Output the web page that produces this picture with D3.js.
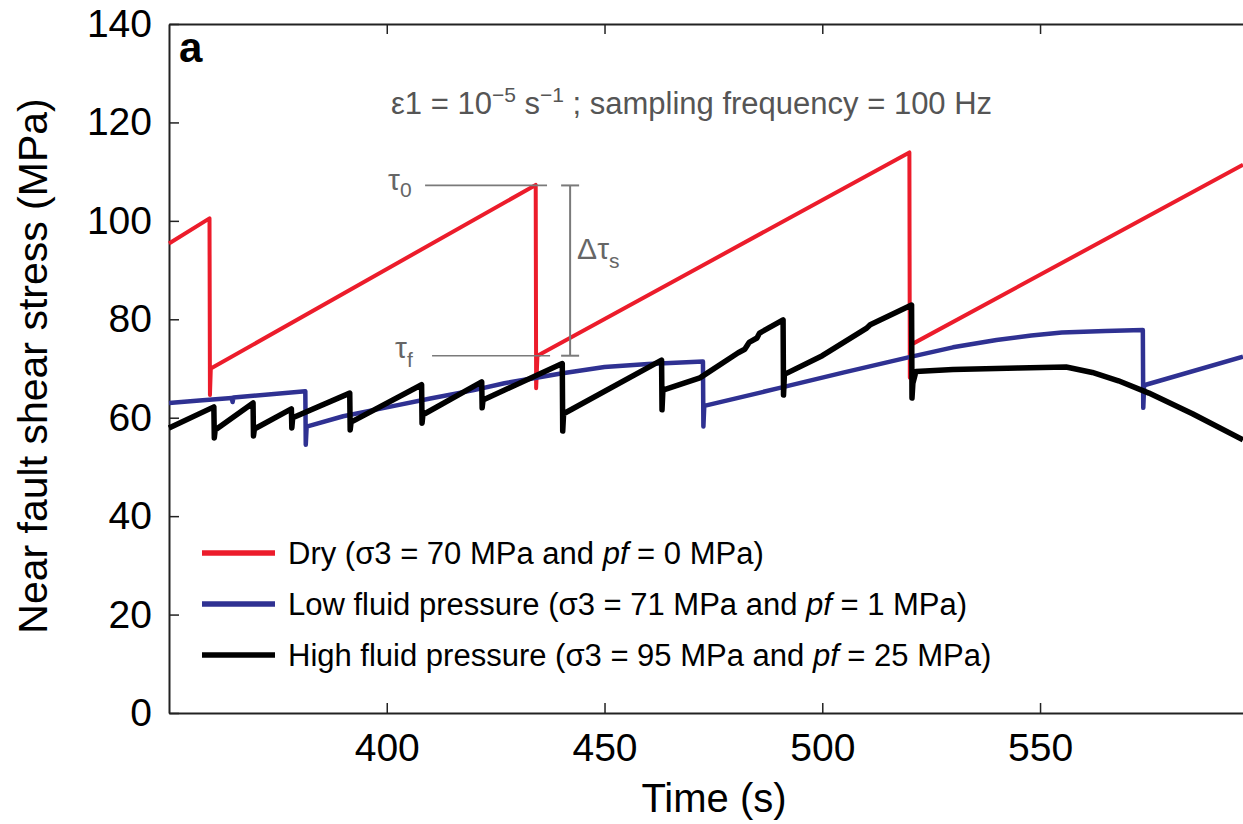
<!DOCTYPE html>
<html>
<head>
<meta charset="utf-8">
<script src="https://cdn.jsdelivr.net/npm/d3@7"></script>
<style>
  html, body { margin: 0; padding: 0; background: #fff; }
  svg { display: block; }
  text { font-family: "Liberation Sans", Arial, Helvetica, sans-serif; }
</style>
</head>
<body>
<svg id="chart" width="1243" height="824"></svg>
<script>
// ---- Data (time in s, stress in MPa) ----
const dry = [
  [350, 95.4], [359.3, 100.5], [359.4, 64.6], [359.6, 70.0],
  [434.2, 107.3], [434.3, 66.0], [434.6, 72.6],
  [520.0, 113.9], [520.1, 68.1], [520.3, 74.8],
  [596.6, 111.4]
];
const lowFluid = [
  [350, 63.0], [357, 63.5], [364.4, 64.0], [364.6, 63.2], [364.8, 64.1],
  [381.3, 65.4], [381.4, 54.5], [381.6, 58.2],
  [390, 60.3], [400, 62.1], [410, 63.9], [420, 65.6], [427, 67.0],
  [440, 69.0], [450, 70.3], [460, 70.9], [472.6, 71.4],
  [472.7, 58.2], [472.9, 62.4],
  [490, 66.0], [505, 69.2], [520, 72.3], [530, 74.3], [540, 75.8],
  [548, 76.7], [555, 77.3], [565, 77.6], [573.6, 77.8],
  [573.7, 62.0], [573.9, 66.6], [596.6, 72.4]
];
const highFluid = [
  [350, 57.9], [360.3, 62.2], [360.4, 55.9], [360.6, 57.5],
  [369.3, 63.0], [369.4, 56.3], [369.6, 57.7],
  [378.1, 61.8], [378.2, 57.9], [378.4, 60.0],
  [391.5, 65.0], [391.6, 57.5], [391.8, 59.1],
  [408.0, 66.7], [408.1, 58.9], [408.3, 60.6],
  [421.8, 67.3], [421.9, 62.0], [422.1, 63.6],
  [440.3, 71.0], [440.4, 57.3], [440.6, 60.8],
  [463.1, 71.7], [463.2, 61.6], [463.4, 65.6],
  [471.9, 68.1], [480.7, 73.2], [482.2, 73.9], [483.2, 75.3], [485.0, 76.2], [485.6, 77.2],
  [491.0, 79.9], [491.1, 64.6], [491.3, 68.8],
  [500, 72.6], [510.2, 78.2], [511.0, 78.9], [520.5, 82.9],
  [520.6, 64.0], [520.8, 67.0], [521.5, 69.4],
  [530, 69.8], [545, 70.1], [556, 70.3], [562, 69.2], [568, 67.5],
  [575, 65.0], [585, 60.8], [596.6, 55.5]
];
const xTicks = [400, 450, 500, 550];
const yTicks = [0, 20, 40, 60, 80, 100, 120, 140];
const seriesNames = [
  "Dry (\u03c33 = 70 MPa and ",
  "Low fluid pressure (\u03c33 = 71 MPa and ",
  "High fluid pressure (\u03c33 = 95 MPa and "
];
const seriesTails = [" = 0 MPa)", " = 1 MPa)", " = 25 MPa)"];
const seriesColors = ["#ec1c2b", "#2f3192", "#000000"];
const seriesWidths = [4, 4.5, 5.5];
// annotation levels (MPa) and times (s)
const tau0 = 107.2, tauF = 72.6;
const tau0Span = [408.8, 436.8], tauFSpan = [410.4, 437.5];
const deltaT = 442.1;

// ---- Layout ----
const svg = d3.select("#chart");
const x = d3.scaleLinear().domain([350, 596.6]).range([169, 1243]);
const y = d3.scaleLinear().domain([0, 140]).range([713, 24]);

// Axes
const axisColor = "#222";
const gx = svg.append("g").attr("transform", "translate(0,713)")
  .call(d3.axisBottom(x).tickValues(xTicks).tickSize(-10).tickPadding(20).tickSizeOuter(0));
const gxTop = svg.append("g").attr("transform", "translate(0,24)")
  .call(d3.axisTop(x).tickValues(xTicks).tickSize(-10).tickFormat("").tickSizeOuter(0));
const gy = svg.append("g").attr("transform", "translate(169,0)")
  .call(d3.axisLeft(y).tickValues(yTicks).tickSize(-10).tickPadding(17).tickSizeOuter(0));
[gx, gxTop, gy].forEach(g => {
  g.select(".domain").attr("stroke", axisColor).attr("stroke-width", 2);
  g.selectAll(".tick line").attr("stroke", axisColor).attr("stroke-width", 1.5);
  g.selectAll(".tick text").attr("fill", "#000").attr("font-size", 39)
    .attr("font-family", "'Liberation Sans', Arial, sans-serif");
});

// Axis titles
svg.append("text").attr("x", 714).attr("y", 812).attr("text-anchor", "middle")
  .attr("font-size", 40).text("Time (s)");
svg.append("text").attr("transform", "translate(47,366) rotate(-90)")
  .attr("text-anchor", "middle").attr("font-size", 41)
  .text("Near fault shear stress (MPa)");

// Panel label
svg.append("text").attr("x", 179).attr("y", 62).attr("font-size", 42)
  .attr("font-weight", "bold").text("a");

// Conditions annotation
const ann = svg.append("text").attr("x", 391).attr("y", 114)
  .attr("font-size", 31).attr("fill", "#555");
ann.append("tspan").text("\u03b51 = 10");
ann.append("tspan").attr("font-size", 21).attr("dy", -12).text("\u22125");
ann.append("tspan").attr("dy", 12).text(" s");
ann.append("tspan").attr("font-size", 21).attr("dy", -12).text("\u22121");
ann.append("tspan").attr("dy", 12).text(" ; sampling frequency = 100 Hz");

// Lines
const line = d3.line().x(d => x(d[0])).y(d => y(d[1]));
const plot = svg.append("g");
[dry, lowFluid, highFluid].forEach((s, i) => {
  plot.append("path").datum(s).attr("d", line)
    .attr("fill", "none").attr("stroke", seriesColors[i])
    .attr("stroke-width", seriesWidths[i]).attr("stroke-linejoin", "round");
});

// tau annotations
const annColor = "#7a7a7a";
const g2 = svg.append("g");
g2.append("line").attr("x1", x(tau0Span[0])).attr("x2", x(tau0Span[1]))
  .attr("y1", y(tau0)).attr("y2", y(tau0)).attr("stroke", annColor).attr("stroke-width", 1.6);
g2.append("line").attr("x1", x(tauFSpan[0])).attr("x2", x(tauFSpan[1]))
  .attr("y1", y(tauF)).attr("y2", y(tauF)).attr("stroke", annColor).attr("stroke-width", 1.6);
g2.append("line").attr("x1", x(deltaT)).attr("x2", x(deltaT))
  .attr("y1", y(tau0)).attr("y2", y(tauF)).attr("stroke", annColor).attr("stroke-width", 2);
[tau0, tauF].forEach(v => {
  g2.append("line").attr("x1", x(deltaT) - 9).attr("x2", x(deltaT) + 9)
    .attr("y1", y(v)).attr("y2", y(v)).attr("stroke", annColor).attr("stroke-width", 2);
});
const serif = "'Liberation Serif', 'DejaVu Serif', serif";
const t0 = g2.append("text").attr("x", x(tau0Span[0]) - 37).attr("y", y(tau0) + 5)
  .attr("font-family", serif).attr("font-size", 30).attr("fill", "#666");
t0.append("tspan").text("\u03c4");
t0.append("tspan").attr("font-size", 21).attr("dy", 7).text("0");
const tf = g2.append("text").attr("x", x(tauFSpan[0]) - 37).attr("y", y(tauF) + 2)
  .attr("font-family", serif).attr("font-size", 30).attr("fill", "#666");
tf.append("tspan").text("\u03c4");
tf.append("tspan").attr("font-size", 21).attr("dy", 9).text("f");
const dt = g2.append("text").attr("x", x(deltaT) + 7).attr("y", 259)
  .attr("font-family", serif).attr("font-size", 30).attr("fill", "#666");
dt.append("tspan").text("\u0394\u03c4");
dt.append("tspan").attr("font-size", 21).attr("dy", 9).text("s");

// Legend
const legend = svg.append("g");
seriesNames.forEach((name, i) => {
  const yy = 553 + i * 51;
  legend.append("line").attr("x1", 202).attr("x2", 275).attr("y1", yy).attr("y2", yy)
    .attr("stroke", seriesColors[i]).attr("stroke-width", 5.5);
  const t = legend.append("text").attr("x", 288).attr("y", yy + 11)
    .attr("font-size", 31).attr("fill", "#000");
  t.append("tspan").text(name);
  t.append("tspan").attr("font-style", "italic").text("pf");
  t.append("tspan").text(seriesTails[i]);
});
</script>
</body>
</html>
